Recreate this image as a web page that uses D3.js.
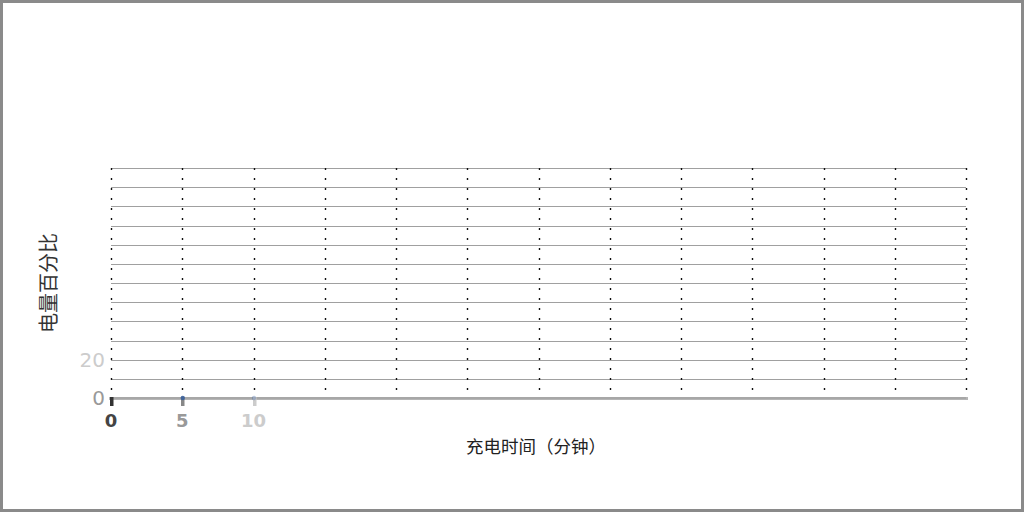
<!DOCTYPE html>
<html><head><meta charset="utf-8">
<script src="https://cdn.jsdelivr.net/npm/d3@7/dist/d3.min.js"></script>
<style>
html,body{margin:0;padding:0;background:#fff;}
svg{display:block;}
</style></head>
<body>
<svg id="c" width="1024" height="512"></svg>
<script>
// ---- data ----
const xTicks = [0,5,10,15,20,25,30,35,40,45,50,55,60];
const yTicks = [0,10,20,30,40,50,60,70,80,90,100,110,120];
const xTickLabels = ["0","5","10"];
const yTickLabels = ["0","20"];
const times = [0,5,10];
const charge = [0,0,0];
const xTitle = "充电时间（分钟）";
const yTitle = "电量百分比";

// ---- styles (animation state) ----
const xLabelColors = ["#444","#999","#ccc"];
const xTickColors = ["#333","#888","#ccc"];
const yLabelColors = ["#999","#ccc"];
const pointOpacity = [0, 0.9, 0.35];

const W=1024,H=512;
const m={l:111,r:966,t:168,b:398};
const svg=d3.select("#c");
svg.append("rect").attr("x",1.5).attr("y",1.5).attr("width",W-3).attr("height",H-3)
  .attr("fill","#fff").attr("stroke","#8a8a8a").attr("stroke-width",3);

const x=d3.scaleLinear().domain([0,60]).range([m.l,m.r]);
const y=d3.scaleLinear().domain([0,120]).range([m.b,m.t]);

// horizontal grid
svg.append("g").selectAll("line").data(yTicks.slice(1)).join("line")
  .attr("x1",m.l).attr("x2",m.r)
  .attr("y1",d=>Math.round(y(d))+0.5).attr("y2",d=>Math.round(y(d))+0.5)
  .attr("stroke","#a0a0a0").attr("stroke-width",1);

// vertical dotted grid
svg.append("g").selectAll("line").data(xTicks).join("line")
  .attr("x1",d=>Math.round(x(d))+0.5).attr("x2",d=>Math.round(x(d))+0.5)
  .attr("y1",m.t).attr("y2",m.b)
  .attr("stroke","#111").attr("stroke-width",1.4).attr("stroke-dasharray","2,8");

// x axis line
svg.append("line").attr("x1",m.l-2).attr("x2",m.r+2).attr("y1",m.b+0.5).attr("y2",m.b+0.5)
  .attr("stroke","#b5b5b5").attr("stroke-width",3);
svg.append("line").attr("x1",m.l).attr("x2",m.r).attr("y1",m.b).attr("y2",m.b)
  .attr("stroke","#999").attr("stroke-width",1);

// x ticks and labels
const xl=xTickLabels.map(Number);
svg.append("g").selectAll("rect").data(xl).join("rect")
  .attr("x",d=>Math.round(x(d))-1).attr("y",m.b-1).attr("width",3.5).attr("height",9)
  .attr("fill",(d,i)=>xTickColors[i]);
svg.append("g").selectAll("text").data(xTickLabels).join("text")
  .attr("x",d=>x(+d)).attr("y",427).attr("text-anchor","middle")
  .attr("font-family","DejaVu Sans, Verdana, sans-serif").attr("font-weight","bold")
  .attr("font-size",18).attr("fill",(d,i)=>xLabelColors[i]).text(d=>d);

// points
svg.append("g").selectAll("circle").data(times.map((t,i)=>[t,charge[i]])).join("circle")
  .attr("cx",d=>x(d[0])+0.5).attr("cy",d=>y(d[1])).attr("r",2.2)
  .attr("fill","#3a5f9a").attr("opacity",(d,i)=>pointOpacity[i]);

// y labels
svg.append("g").selectAll("text").data(yTickLabels).join("text")
  .attr("x",105).attr("y",d=>y(+d)+7).attr("text-anchor","end")
  .attr("font-family","DejaVu Sans, Verdana, sans-serif")
  .attr("font-size",20).attr("fill",(d,i)=>yLabelColors[i]).text(d=>d);

// titles
svg.append("text").attr("x",536).attr("y",453).attr("text-anchor","middle")
  .attr("font-family","Noto Sans CJK SC, sans-serif").attr("font-size",17.5).attr("fill","#222")
  .text(xTitle);
svg.append("text").attr("transform","translate(56,283) rotate(-90)").attr("text-anchor","middle")
  .attr("font-family","Noto Sans CJK SC, sans-serif").attr("font-size",20).attr("fill","#333")
  .text(yTitle);
</script>
</body></html>
